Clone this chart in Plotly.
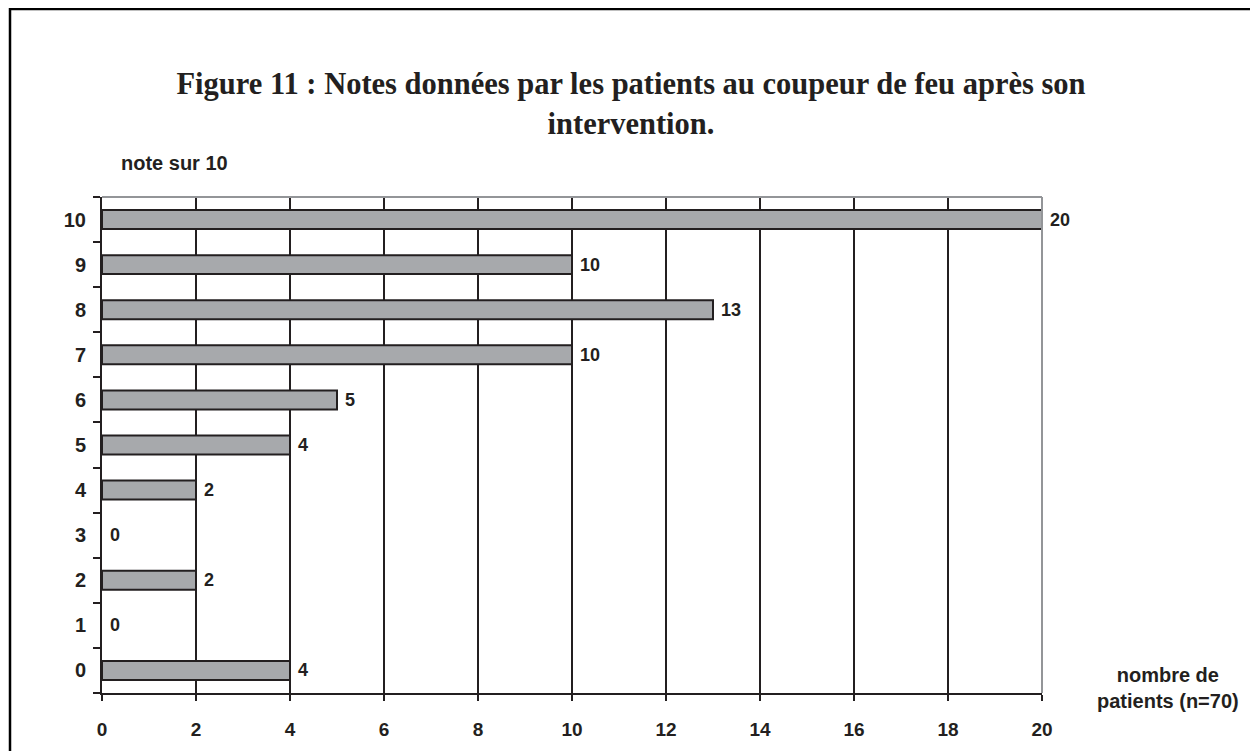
import plotly.graph_objects as go

notes = ["0", "1", "2", "3", "4", "5", "6", "7", "8", "9", "10"]
patients = [4, 0, 2, 0, 2, 4, 5, 10, 13, 10, 20]
x_ticks = [0, 2, 4, 6, 8, 10, 12, 14, 16, 18, 20]

title_text = "Figure 11 : Notes données par les patients au coupeur de feu après son<br>intervention."
y_title = "note sur 10"
x_title = "nombre de<br>patients (n=70)"

ink = "#231f20"
OFF = 8  # page body margin
W, H = 1258 - OFF, 751 - OFF
# plot area in page pixels: x 102..1042, y 197..693
L = 102 - OFF
R = 1258 - 1042
T = 197 - OFF
B = 751 - 693
PW, PH = W - L - R, H - T - B


def px(xp):
    return (xp - OFF - L) / PW


def py(yp):
    return (H - B - (yp - OFF)) / PH


fig = go.Figure()
fig.add_trace(go.Bar(
    y=notes, x=patients, orientation="h",
    marker=dict(color="#a7a9ac",
                line=dict(color=ink, width=[2 if v > 0 else 0 for v in patients])),
    texttemplate="\u00a0%{x}", textposition="outside", constraintext="none",
    textfont=dict(family="Liberation Sans, Arial", size=18, color=ink, weight="bold"),
    cliponaxis=False,
))

fig.update_layout(
    width=W, height=H,
    margin=dict(l=L, r=R, t=T, b=B),
    paper_bgcolor="white", plot_bgcolor="white",
    showlegend=False, bargap=0.58,
    font=dict(family="Liberation Sans, Arial", color=ink),
    title=dict(text=title_text, x=px(631), xanchor="center", xref="paper",
               y=1 - (94 - OFF) / H, yanchor="top",
               font=dict(family="Liberation Serif, Times New Roman", size=30.5, color=ink, weight="bold")),
    xaxis=dict(range=[0, 20], tickvals=x_ticks, showgrid=True, gridcolor=ink, gridwidth=2,
               showline=True, linecolor=ink, linewidth=2, ticks="outside", ticklen=6,
               tickwidth=2, tickcolor=ink, zeroline=False, ticklabelstandoff=12,
               tickfont=dict(size=19, color=ink, weight="bold"), fixedrange=True),
    yaxis=dict(type="category", categoryorder="array", categoryarray=notes,
               showgrid=False, showline=True, linecolor=ink, linewidth=2,
               ticks="outside", tickson="boundaries", ticklen=7, tickwidth=2, tickcolor=ink,
               ticklabelstandoff=10,
               tickfont=dict(size=20, color=ink, weight="bold"), fixedrange=True),
    shapes=[
        dict(type="line", xref="paper", yref="paper", x0=0, x1=1, y0=1, y1=1,
             line=dict(color="#939598", width=2), layer="above"),
        dict(type="line", xref="paper", yref="paper", x0=1, x1=1, y0=0, y1=1,
             line=dict(color="#939598", width=2), layer="above"),
        dict(type="rect", xref="paper", yref="paper",
             x0=px(10), x1=px(1290), y0=py(790), y1=py(9),
             line=dict(color="black", width=2.5), layer="below"),
    ],
    annotations=[
        dict(text=y_title, xref="paper", yref="paper", x=px(119), y=py(163),
             xanchor="left", yanchor="middle", showarrow=False,
             font=dict(size=20, color=ink, weight="bold")),
        dict(text=x_title, xref="paper", yref="paper", x=px(1168), y=py(688),
             xanchor="center", yanchor="middle", showarrow=False, align="center",
             font=dict(size=20, color=ink, weight="bold")),
    ],
)

fig.write_html("out.html")
